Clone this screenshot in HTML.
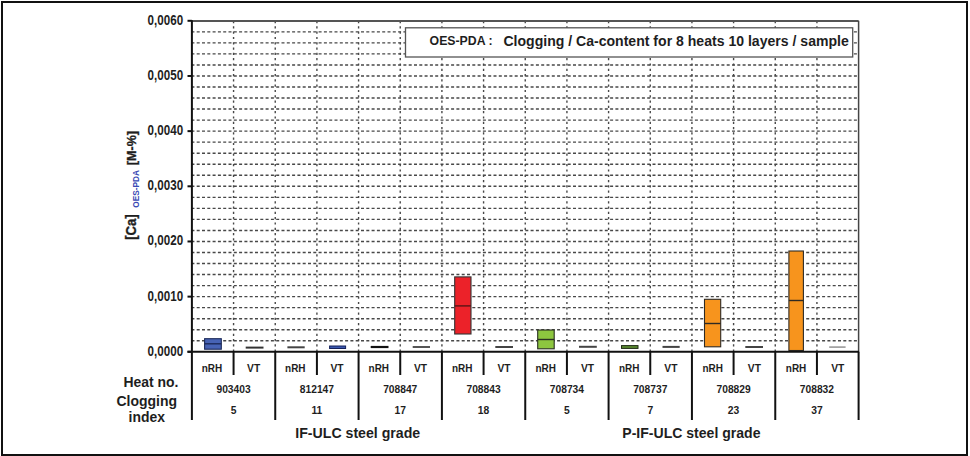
<!DOCTYPE html><html><head><meta charset="utf-8"><style>html,body{margin:0;padding:0;background:#fff;width:970px;height:456px;overflow:hidden}svg{display:block}text{font-family:"Liberation Sans",sans-serif;font-weight:bold;fill:#1e1e1e}</style></head><body>
<svg width="970" height="456" viewBox="0 0 970 456">
<rect x="2" y="2" width="965" height="453" fill="none" stroke="#111" stroke-width="2"/>
<line x1="191.40" y1="31.83" x2="858.60" y2="31.83" stroke="#484848" stroke-width="1.4" stroke-dasharray="3 2.3"/>
<line x1="191.40" y1="42.87" x2="858.60" y2="42.87" stroke="#484848" stroke-width="1.4" stroke-dasharray="3 2.3"/>
<line x1="191.40" y1="53.90" x2="858.60" y2="53.90" stroke="#484848" stroke-width="1.4" stroke-dasharray="3 2.3"/>
<line x1="191.40" y1="64.93" x2="858.60" y2="64.93" stroke="#484848" stroke-width="1.4" stroke-dasharray="3 2.3"/>
<line x1="191.40" y1="75.97" x2="858.60" y2="75.97" stroke="#484848" stroke-width="1.4" stroke-dasharray="3 2.3"/>
<line x1="191.40" y1="87.00" x2="858.60" y2="87.00" stroke="#484848" stroke-width="1.4" stroke-dasharray="3 2.3"/>
<line x1="191.40" y1="98.03" x2="858.60" y2="98.03" stroke="#484848" stroke-width="1.4" stroke-dasharray="3 2.3"/>
<line x1="191.40" y1="109.07" x2="858.60" y2="109.07" stroke="#484848" stroke-width="1.4" stroke-dasharray="3 2.3"/>
<line x1="191.40" y1="120.10" x2="858.60" y2="120.10" stroke="#484848" stroke-width="1.4" stroke-dasharray="3 2.3"/>
<line x1="191.40" y1="131.13" x2="858.60" y2="131.13" stroke="#484848" stroke-width="1.4" stroke-dasharray="3 2.3"/>
<line x1="191.40" y1="142.17" x2="858.60" y2="142.17" stroke="#484848" stroke-width="1.4" stroke-dasharray="3 2.3"/>
<line x1="191.40" y1="153.20" x2="858.60" y2="153.20" stroke="#484848" stroke-width="1.4" stroke-dasharray="3 2.3"/>
<line x1="191.40" y1="164.23" x2="858.60" y2="164.23" stroke="#484848" stroke-width="1.4" stroke-dasharray="3 2.3"/>
<line x1="191.40" y1="175.27" x2="858.60" y2="175.27" stroke="#484848" stroke-width="1.4" stroke-dasharray="3 2.3"/>
<line x1="191.40" y1="186.30" x2="858.60" y2="186.30" stroke="#484848" stroke-width="1.4" stroke-dasharray="3 2.3"/>
<line x1="191.40" y1="197.33" x2="858.60" y2="197.33" stroke="#484848" stroke-width="1.4" stroke-dasharray="3 2.3"/>
<line x1="191.40" y1="208.37" x2="858.60" y2="208.37" stroke="#484848" stroke-width="1.4" stroke-dasharray="3 2.3"/>
<line x1="191.40" y1="219.40" x2="858.60" y2="219.40" stroke="#484848" stroke-width="1.4" stroke-dasharray="3 2.3"/>
<line x1="191.40" y1="230.43" x2="858.60" y2="230.43" stroke="#484848" stroke-width="1.4" stroke-dasharray="3 2.3"/>
<line x1="191.40" y1="241.47" x2="858.60" y2="241.47" stroke="#484848" stroke-width="1.4" stroke-dasharray="3 2.3"/>
<line x1="191.40" y1="252.50" x2="858.60" y2="252.50" stroke="#484848" stroke-width="1.4" stroke-dasharray="3 2.3"/>
<line x1="191.40" y1="263.53" x2="858.60" y2="263.53" stroke="#484848" stroke-width="1.4" stroke-dasharray="3 2.3"/>
<line x1="191.40" y1="274.57" x2="858.60" y2="274.57" stroke="#484848" stroke-width="1.4" stroke-dasharray="3 2.3"/>
<line x1="191.40" y1="285.60" x2="858.60" y2="285.60" stroke="#484848" stroke-width="1.4" stroke-dasharray="3 2.3"/>
<line x1="191.40" y1="296.63" x2="858.60" y2="296.63" stroke="#484848" stroke-width="1.4" stroke-dasharray="3 2.3"/>
<line x1="191.40" y1="307.67" x2="858.60" y2="307.67" stroke="#484848" stroke-width="1.4" stroke-dasharray="3 2.3"/>
<line x1="191.40" y1="318.70" x2="858.60" y2="318.70" stroke="#484848" stroke-width="1.4" stroke-dasharray="3 2.3"/>
<line x1="191.40" y1="329.73" x2="858.60" y2="329.73" stroke="#484848" stroke-width="1.4" stroke-dasharray="3 2.3"/>
<line x1="191.40" y1="340.77" x2="858.60" y2="340.77" stroke="#484848" stroke-width="1.4" stroke-dasharray="3 2.3"/>
<line x1="233.57" y1="21.00" x2="233.57" y2="351.80" stroke="#484848" stroke-width="1.4" stroke-dasharray="2.2 3.1"/>
<line x1="275.24" y1="21.00" x2="275.24" y2="351.80" stroke="#484848" stroke-width="1.4" stroke-dasharray="2.2 3.1"/>
<line x1="316.91" y1="21.00" x2="316.91" y2="351.80" stroke="#484848" stroke-width="1.4" stroke-dasharray="2.2 3.1"/>
<line x1="358.58" y1="21.00" x2="358.58" y2="351.80" stroke="#484848" stroke-width="1.4" stroke-dasharray="2.2 3.1"/>
<line x1="400.24" y1="21.00" x2="400.24" y2="351.80" stroke="#484848" stroke-width="1.4" stroke-dasharray="2.2 3.1"/>
<line x1="441.91" y1="21.00" x2="441.91" y2="351.80" stroke="#484848" stroke-width="1.4" stroke-dasharray="2.2 3.1"/>
<line x1="483.58" y1="21.00" x2="483.58" y2="351.80" stroke="#484848" stroke-width="1.4" stroke-dasharray="2.2 3.1"/>
<line x1="525.25" y1="21.00" x2="525.25" y2="351.80" stroke="#484848" stroke-width="1.4" stroke-dasharray="2.2 3.1"/>
<line x1="566.92" y1="21.00" x2="566.92" y2="351.80" stroke="#484848" stroke-width="1.4" stroke-dasharray="2.2 3.1"/>
<line x1="608.59" y1="21.00" x2="608.59" y2="351.80" stroke="#484848" stroke-width="1.4" stroke-dasharray="2.2 3.1"/>
<line x1="650.26" y1="21.00" x2="650.26" y2="351.80" stroke="#484848" stroke-width="1.4" stroke-dasharray="2.2 3.1"/>
<line x1="691.93" y1="21.00" x2="691.93" y2="351.80" stroke="#484848" stroke-width="1.4" stroke-dasharray="2.2 3.1"/>
<line x1="733.59" y1="21.00" x2="733.59" y2="351.80" stroke="#484848" stroke-width="1.4" stroke-dasharray="2.2 3.1"/>
<line x1="775.26" y1="21.00" x2="775.26" y2="351.80" stroke="#484848" stroke-width="1.4" stroke-dasharray="2.2 3.1"/>
<line x1="816.93" y1="21.00" x2="816.93" y2="351.80" stroke="#484848" stroke-width="1.4" stroke-dasharray="2.2 3.1"/>
<line x1="191.90" y1="21" x2="858.60" y2="21" stroke="#555" stroke-width="2"/>
<line x1="858.60" y1="20.80" x2="858.60" y2="351.80" stroke="#444" stroke-width="1.5"/>
<rect x="405.5" y="27.8" width="447.2" height="29.2" fill="#fff" stroke="#555" stroke-width="1.3"/>
<text x="429.60" y="45.20" font-size="12.80" textLength="63.00" lengthAdjust="spacingAndGlyphs">OES-PDA :</text>
<text x="503.40" y="46.30" font-size="15.00" textLength="345.40" lengthAdjust="spacingAndGlyphs">Clogging / Ca-content for 8 heats 10 layers / sample</text>
<rect x="204.60" y="338.70" width="16.70" height="10.50" fill="#4763b5" stroke="#1c2a5a" stroke-width="1.1"/>
<line x1="204.60" y1="343.80" x2="221.30" y2="343.80" stroke="#1c2a5a" stroke-width="1.4"/>
<rect x="454.70" y="276.90" width="16.30" height="57.10" fill="#ec2229" stroke="#333" stroke-width="1.1"/>
<line x1="454.70" y1="305.90" x2="471.00" y2="305.90" stroke="#5a1515" stroke-width="1.4"/>
<rect x="537.70" y="330.00" width="16.50" height="18.80" fill="#8dc63f" stroke="#2a2f22" stroke-width="1.1"/>
<line x1="537.70" y1="339.50" x2="554.20" y2="339.50" stroke="#2a2f22" stroke-width="1.4"/>
<rect x="704.50" y="299.30" width="16.20" height="47.50" fill="#f7941d" stroke="#2e2a24" stroke-width="1.1"/>
<line x1="704.50" y1="323.50" x2="720.70" y2="323.50" stroke="#2e2a24" stroke-width="1.4"/>
<rect x="788.90" y="251.00" width="14.50" height="99.50" fill="#f7941d" stroke="#2e2a24" stroke-width="1.1"/>
<line x1="788.90" y1="300.50" x2="803.40" y2="300.50" stroke="#2e2a24" stroke-width="1.4"/>
<line x1="245.70" y1="347.60" x2="263.50" y2="347.60" stroke="#333" stroke-width="2"/>
<line x1="287.40" y1="347.30" x2="304.70" y2="347.30" stroke="#444" stroke-width="2"/>
<line x1="370.70" y1="347.00" x2="388.50" y2="347.00" stroke="#111" stroke-width="2.2"/>
<line x1="412.70" y1="347.00" x2="430.00" y2="347.00" stroke="#555" stroke-width="2"/>
<line x1="495.30" y1="347.00" x2="513.00" y2="347.00" stroke="#444" stroke-width="2"/>
<line x1="579.00" y1="346.80" x2="596.80" y2="346.80" stroke="#444" stroke-width="2"/>
<line x1="662.50" y1="346.90" x2="679.70" y2="346.90" stroke="#444" stroke-width="2"/>
<line x1="745.30" y1="347.00" x2="763.00" y2="347.00" stroke="#444" stroke-width="2"/>
<line x1="829.20" y1="347.10" x2="845.60" y2="347.10" stroke="#999" stroke-width="1.6"/>
<rect x="329.6" y="346.0" width="16" height="2.5" fill="#3a58b0" stroke="#14205a" stroke-width="1"/>
<rect x="621.5" y="345.6" width="16.5" height="2.8" fill="#5a8a30" stroke="#1e2a14" stroke-width="1"/>
<line x1="191.90" y1="20.30" x2="191.90" y2="420.00" stroke="#111" stroke-width="2"/>
<line x1="187.50" y1="351.80" x2="859.10" y2="351.80" stroke="#111" stroke-width="2"/>
<line x1="187.5" y1="20.80" x2="191.90" y2="20.80" stroke="#111" stroke-width="2"/>
<line x1="187.5" y1="75.97" x2="191.90" y2="75.97" stroke="#111" stroke-width="2"/>
<line x1="187.5" y1="131.13" x2="191.90" y2="131.13" stroke="#111" stroke-width="2"/>
<line x1="187.5" y1="186.30" x2="191.90" y2="186.30" stroke="#111" stroke-width="2"/>
<line x1="187.5" y1="241.47" x2="191.90" y2="241.47" stroke="#111" stroke-width="2"/>
<line x1="187.5" y1="296.63" x2="191.90" y2="296.63" stroke="#111" stroke-width="2"/>
<line x1="187.5" y1="351.80" x2="191.90" y2="351.80" stroke="#111" stroke-width="2"/>
<line x1="233.57" y1="351.80" x2="233.57" y2="375.00" stroke="#111" stroke-width="2"/>
<line x1="275.24" y1="351.80" x2="275.24" y2="420.00" stroke="#111" stroke-width="2"/>
<line x1="316.91" y1="351.80" x2="316.91" y2="375.00" stroke="#111" stroke-width="2"/>
<line x1="358.58" y1="351.80" x2="358.58" y2="420.00" stroke="#111" stroke-width="2"/>
<line x1="400.24" y1="351.80" x2="400.24" y2="375.00" stroke="#111" stroke-width="2"/>
<line x1="441.91" y1="351.80" x2="441.91" y2="420.00" stroke="#111" stroke-width="2"/>
<line x1="483.58" y1="351.80" x2="483.58" y2="375.00" stroke="#111" stroke-width="2"/>
<line x1="525.25" y1="351.80" x2="525.25" y2="420.00" stroke="#111" stroke-width="2"/>
<line x1="566.92" y1="351.80" x2="566.92" y2="375.00" stroke="#111" stroke-width="2"/>
<line x1="608.59" y1="351.80" x2="608.59" y2="420.00" stroke="#111" stroke-width="2"/>
<line x1="650.26" y1="351.80" x2="650.26" y2="375.00" stroke="#111" stroke-width="2"/>
<line x1="691.93" y1="351.80" x2="691.93" y2="420.00" stroke="#111" stroke-width="2"/>
<line x1="733.59" y1="351.80" x2="733.59" y2="375.00" stroke="#111" stroke-width="2"/>
<line x1="775.26" y1="351.80" x2="775.26" y2="420.00" stroke="#111" stroke-width="2"/>
<line x1="816.93" y1="351.80" x2="816.93" y2="375.00" stroke="#111" stroke-width="2"/>
<line x1="858.60" y1="351.80" x2="858.60" y2="420.00" stroke="#111" stroke-width="2"/>
<text x="183.10" y="24.70" font-size="13.80" text-anchor="end" textLength="35.50" lengthAdjust="spacingAndGlyphs">0,0060</text>
<text x="183.10" y="79.87" font-size="13.80" text-anchor="end" textLength="35.50" lengthAdjust="spacingAndGlyphs">0,0050</text>
<text x="183.10" y="135.03" font-size="13.80" text-anchor="end" textLength="35.50" lengthAdjust="spacingAndGlyphs">0,0040</text>
<text x="183.10" y="190.20" font-size="13.80" text-anchor="end" textLength="35.50" lengthAdjust="spacingAndGlyphs">0,0030</text>
<text x="183.10" y="245.37" font-size="13.80" text-anchor="end" textLength="35.50" lengthAdjust="spacingAndGlyphs">0,0020</text>
<text x="183.10" y="300.53" font-size="13.80" text-anchor="end" textLength="35.50" lengthAdjust="spacingAndGlyphs">0,0010</text>
<text x="183.10" y="355.70" font-size="13.80" text-anchor="end" textLength="35.50" lengthAdjust="spacingAndGlyphs">0,0000</text>
<text x="211.88" y="371.60" font-size="10.50" text-anchor="middle" textLength="20.50" lengthAdjust="spacingAndGlyphs">nRH</text>
<text x="253.61" y="371.60" font-size="10.50" text-anchor="middle" textLength="13.10" lengthAdjust="spacingAndGlyphs">VT</text>
<text x="295.34" y="371.60" font-size="10.50" text-anchor="middle" textLength="20.50" lengthAdjust="spacingAndGlyphs">nRH</text>
<text x="337.07" y="371.60" font-size="10.50" text-anchor="middle" textLength="13.10" lengthAdjust="spacingAndGlyphs">VT</text>
<text x="378.80" y="371.60" font-size="10.50" text-anchor="middle" textLength="20.50" lengthAdjust="spacingAndGlyphs">nRH</text>
<text x="420.53" y="371.60" font-size="10.50" text-anchor="middle" textLength="13.10" lengthAdjust="spacingAndGlyphs">VT</text>
<text x="462.26" y="371.60" font-size="10.50" text-anchor="middle" textLength="20.50" lengthAdjust="spacingAndGlyphs">nRH</text>
<text x="503.99" y="371.60" font-size="10.50" text-anchor="middle" textLength="13.10" lengthAdjust="spacingAndGlyphs">VT</text>
<text x="545.71" y="371.60" font-size="10.50" text-anchor="middle" textLength="20.50" lengthAdjust="spacingAndGlyphs">nRH</text>
<text x="587.44" y="371.60" font-size="10.50" text-anchor="middle" textLength="13.10" lengthAdjust="spacingAndGlyphs">VT</text>
<text x="629.17" y="371.60" font-size="10.50" text-anchor="middle" textLength="20.50" lengthAdjust="spacingAndGlyphs">nRH</text>
<text x="670.90" y="371.60" font-size="10.50" text-anchor="middle" textLength="13.10" lengthAdjust="spacingAndGlyphs">VT</text>
<text x="712.63" y="371.60" font-size="10.50" text-anchor="middle" textLength="20.50" lengthAdjust="spacingAndGlyphs">nRH</text>
<text x="754.36" y="371.60" font-size="10.50" text-anchor="middle" textLength="13.10" lengthAdjust="spacingAndGlyphs">VT</text>
<text x="796.09" y="371.60" font-size="10.50" text-anchor="middle" textLength="20.50" lengthAdjust="spacingAndGlyphs">nRH</text>
<text x="837.82" y="371.60" font-size="10.50" text-anchor="middle" textLength="13.10" lengthAdjust="spacingAndGlyphs">VT</text>
<text x="233.57" y="392.70" font-size="10.60" text-anchor="middle" textLength="34.20" lengthAdjust="spacingAndGlyphs">903403</text>
<text x="233.57" y="413.70" font-size="10.30" text-anchor="middle">5</text>
<text x="316.91" y="392.70" font-size="10.60" text-anchor="middle" textLength="34.20" lengthAdjust="spacingAndGlyphs">812147</text>
<text x="316.91" y="413.70" font-size="10.30" text-anchor="middle">11</text>
<text x="400.24" y="392.70" font-size="10.60" text-anchor="middle" textLength="34.20" lengthAdjust="spacingAndGlyphs">708847</text>
<text x="400.24" y="413.70" font-size="10.30" text-anchor="middle">17</text>
<text x="483.58" y="392.70" font-size="10.60" text-anchor="middle" textLength="34.20" lengthAdjust="spacingAndGlyphs">708843</text>
<text x="483.58" y="413.70" font-size="10.30" text-anchor="middle">18</text>
<text x="566.92" y="392.70" font-size="10.60" text-anchor="middle" textLength="34.20" lengthAdjust="spacingAndGlyphs">708734</text>
<text x="566.92" y="413.70" font-size="10.30" text-anchor="middle">5</text>
<text x="650.26" y="392.70" font-size="10.60" text-anchor="middle" textLength="34.20" lengthAdjust="spacingAndGlyphs">708737</text>
<text x="650.26" y="413.70" font-size="10.30" text-anchor="middle">7</text>
<text x="733.59" y="392.70" font-size="10.60" text-anchor="middle" textLength="34.20" lengthAdjust="spacingAndGlyphs">708829</text>
<text x="733.59" y="413.70" font-size="10.30" text-anchor="middle">23</text>
<text x="816.93" y="392.70" font-size="10.60" text-anchor="middle" textLength="34.20" lengthAdjust="spacingAndGlyphs">708832</text>
<text x="816.93" y="413.70" font-size="10.30" text-anchor="middle">37</text>
<text x="151.00" y="386.50" font-size="15.00" text-anchor="middle" textLength="55.00" lengthAdjust="spacingAndGlyphs">Heat no.</text>
<text x="146.70" y="406.00" font-size="14.80" text-anchor="middle" textLength="60.60" lengthAdjust="spacingAndGlyphs">Clogging</text>
<text x="146.75" y="422.30" font-size="14.80" text-anchor="middle" textLength="36.40" lengthAdjust="spacingAndGlyphs">index</text>
<text x="357.75" y="437.50" font-size="15.50" text-anchor="middle" textLength="125.00" lengthAdjust="spacingAndGlyphs">IF-ULC steel grade</text>
<text x="691.40" y="437.50" font-size="15.50" text-anchor="middle" textLength="138.20" lengthAdjust="spacingAndGlyphs">P-IF-ULC steel grade</text>
<g transform="translate(135.8,185.5) rotate(-90)">
<text x="-54.30" y="0.00" font-size="14.00" textLength="25.50" lengthAdjust="spacingAndGlyphs" style="stroke:#1e1e1e;stroke-width:0.35">[Ca]</text>
<text x="-22.20" y="3.30" font-size="9.60" textLength="37.60" lengthAdjust="spacingAndGlyphs" style="fill:#3a4ab4">OES-PDA</text>
<text x="20.30" y="0.30" font-size="13.40" textLength="34.20" lengthAdjust="spacingAndGlyphs" style="stroke:#1e1e1e;stroke-width:0.35">[M-%]</text>
</g>
</svg></body></html>
